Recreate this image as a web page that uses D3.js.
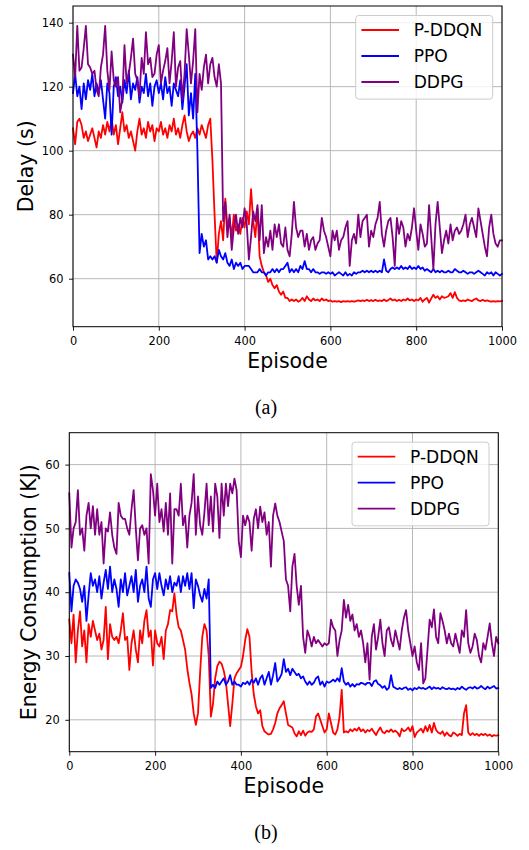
<!DOCTYPE html>
<html>
<head>
<meta charset="utf-8">
<script src="https://cdn.jsdelivr.net/npm/d3@7"></script>
<style>
  html, body { margin: 0; padding: 0; background: #fff; }
  svg { display: block; }
</style>
</head>
<body>
<div id="chart"></div>
<script>
// Training curves sampled every 5 episodes (0..1000)
const episodes = d3.range(0, 1001, 5);
const seriesNames = ["P-DDQN", "PPO", "DDPG"];
const seriesColors = ["#ff0000", "#0000ff", "#800080"];
const xTicks = [0, 200, 400, 600, 800, 1000];
const delayTicks = [60, 80, 100, 120, 140];
const energyTicks = [20, 30, 40, 50, 60];

// (a) Delay (s)
const delayPDDQN = [
  107,102,109,110,108,104,106,103,105,107,
  104,101,106,104,108,105,109,106,110,105,
  108,102,107,112,106,108,104,106,103,100,
  106,110,105,107,104,109,106,108,103,107,
  106,109,105,107,104,108,106,110,105,107,
  104,108,111,106,103,105,106,104,107,105,
  108,106,104,108,110,97,80,65,74,78,
  72,85,76,79,73,80,75,77,74,79,
  76,81,77,88,78,73,82,67,64,62,
  61,59,60,58,57,58,56,55,56,54,
  54,53,53.5,53,53.5,52.8,53.2,54,53,54.5,
  53.5,53,53.8,53.2,53.5,53,53.8,53.2,53.5,53,
  53.2,52.8,53,52.8,53,52.7,53,52.8,53,52.8,
  53,52.8,53,53.2,53,53.2,53,53.4,53,53.3,
  53,53.4,53,53.2,53,53.5,53,53.3,53.8,53.2,
  53.5,53,53.4,53,53.5,53.2,53.8,53.2,53.5,53,
  53.5,53.2,54,52.8,53.5,54,52.5,53.8,55,54,
  54.5,53.5,54.5,54,54.2,54.5,55.5,54,55.8,54,
  53.2,53,53.2,53,53.5,53.2,53,53.5,53.8,53.2,
  53,53.4,53,53.2,53,52.8,53,52.8,53,52.9,
  53
];
const delayPPO = [
  118,124,117,120,113,121,116,122,119,124,
  117,121,118,122,116,110,121,118,105,120,
  123,117,120,115,122,118,125,116,121,119,
  123,115,120,118,124,117,121,114,120,122,
  118,121,116,123,118,120,114,121,119,117,
  122,113,120,127,111,118,110,124,100,68,
  74,70,72,66,67,66,67,65,69,67,
  66,68,65,64,66,63,65,64,65,63,
  64,64,64,63,62,62,62,63,62,62,
  61,62,62,63,62,63,62,63,63,64,
  65,62,63,62,63,62,64,63,65.5,63,
  63,62,63,62,62,61.5,62,62,61.5,62,
  61.5,62,61,61.5,62,61.5,61,62,61,61.5,
  61,62,61.5,62,62,62.5,62,62.5,62,62.5,
  62,62.5,62,62.5,62,66,62.5,62,63,63.5,
  63,63.5,63,64,63,63.5,63,64,63,63.5,
  63,64,63,63.5,62.5,63,62.5,62,63,62,
  62.5,62,62.5,62,62,62.5,62,62,63,62.5,
  62,62,62.5,62,61.5,62,62,61.5,62,62.5,
  62,61.5,61,62,61.5,62,61,62,61.5,61,
  61.5
];
const delayDDPG = [
  130,123,139,125,126,132,139,127,126,124,
  125,119,117,126,130,139,125,119,131,122,
  120,123,112,116,133,121,124,129,135,124,
  122,117,129,124,137,127,129,123,124,130,
  133,121,125,128,132,121,128,137,120,126,
  128,116,124,138,130,121,128,138,112,124,
  119,126,130,121,127,129,123,120,127,121,
  78,84,73,80,69,76,80,74,79,76,
  82,77,66,73,81,78,83,72,83,68,
  73,70,75,69,77,73,77,71,70,76,
  69,67,74,84,76,73,75,75,70,74,
  69,72,73,69,71,72,79,75,73,70,
  67,75,72,75,69,72,73,76,78,64,
  72,74,71,80,73,78,79,80,70,75,
  73,77,79,84,74,70,75,78,79,73,
  64,79,74,78,76,70,74,72,76,82,
  75,69,77,74,70,71,83,73,63,77,
  84,76,68,72,75,71,77,72,75,76,
  74,75,77,80,73,77,79,76,73,82,
  78,74,70,67,76,80,74,71,70,72,
  72
];

// (b) Energy Consumption (KJ)
const energyPDDQN = [
  35.7,32,36.5,29,34,37,31.5,34,29,35,
  33,35.5,34,32.5,33.5,31,32.5,37.7,29.5,35,
  33,32.5,33,32,34,36.7,32.5,33,27.8,32,
  34,31,29,34,32,35.5,37.2,33,34,28.5,
  34,32,31.5,33,29.5,34,35,37.2,37,39.8,
  36.5,34.5,34,32.5,31,28,25.8,24,21,19.2,
  21,27.5,33,35,34,30,20.5,22.5,26.5,28.4,
  29.1,28.8,27.7,26,22.5,19,22.5,26.5,27.3,27.8,
  28.3,30,32.5,34.2,33,27.5,24,22.1,21,21.5,
  19,18.2,17.9,17.7,17.8,18.5,19.5,21,21.8,22.3,
  22.9,21,19.2,19,18.8,17.9,17.4,18.2,17.6,18.3,
  17.5,18,18.2,18.1,18.5,20.5,21,20,19,18,
  18.5,21,19.5,18,17.7,18.5,20.5,24.7,18,18.2,
  18,18.5,18.2,18.6,18.3,18.8,18.2,18.5,18,18.4,
  18.2,18.6,18.1,17.6,18.3,18.8,18.1,17.9,18.3,18.1,
  18.5,18.1,18.3,18,17.4,18.6,18.2,18.4,18.8,18.2,
  19,17.3,18,18.3,18.6,18,19,18.2,19.2,18,
  19.5,18.4,18,17.8,18.2,17.5,18,17.6,17.4,18,
  17.8,17.5,17.8,17.6,21,22.3,18,17.6,17.9,17.6,
  17.8,17.5,17.8,17.6,17.8,17.5,17.7,17.4,17.6,17.5,
  17.6
];
const energyPPO = [
  43,37,41,42,41.5,40.5,38.5,41,35.5,39.5,
  43,41,42,40,42.5,39,41.5,43.5,40.5,44,
  40,42,40.5,37.7,42,40,43,39.5,41,42.5,
  40,43.5,38.5,41,42,40,44,39,37.7,42,
  43,40.5,43,41,39.5,42,40.5,42.5,40,41.5,
  41,42.5,40,42.5,41,43,40.5,43,37.5,42,
  41,39.5,38.5,40.5,39,42,25,25.5,25,26,
  25.5,26,26.5,25.5,26,27,25.5,26,25.5,25.5,
  25.2,25.8,25.6,26,25.5,26.3,25.8,26.5,25.5,26.5,
  27,25.5,26.5,27.5,25.5,27,28.9,26,26.5,27.2,
  29.5,27.5,28,27,28,27.5,27,27.2,26.5,26.8,
  26,25.5,26,25.5,25.8,26.5,26.8,25.5,26,25.2,
  26,25.8,26,26.3,26,26.5,26,28.1,26,25.5,
  25.8,25.2,25.6,25.2,25.6,25.5,25.8,25.7,25.5,25.8,
  25.8,25.3,26,26.2,25.6,25.4,25,25.3,24.7,25,
  27,25.2,25,24.8,25,24.8,25,25.1,24.7,24.9,
  24.6,25,24.8,25.1,24.9,25,24.8,25,25.2,24.8,
  25.1,24.9,25,24.8,25.1,24.9,24.8,25,24.8,24.9,
  24.7,25,24.8,25.2,24.9,24.7,25,25.1,24.9,25.2,
  24.9,25,25.3,25,24.8,25.2,24.9,25.1,25.3,24.9,
  25
];
const energyDDPG = [
  55.5,47,50,51,56,49,50,46.5,52,54,
  50,53.5,49,53,49,51,44.5,50,49.5,52.5,
  49,47,46,54,52,51.5,51.5,50,49,53,
  56,50,45,50,50.5,49,50,44.5,58.5,56,
  52,57,51,53,49.5,54,49,55.5,44.5,53,
  53,52,57,50.5,52,47,52,54,58.5,49,
  55,50.5,49,52.5,57,50.5,55,49.5,57,55,
  48.5,57,52,57,53.5,57,55.5,57.8,56,48,
  45.5,52,50.5,52,51,46.5,51.5,53,50,53.4,
  51,52.5,49,51,44,52,53.9,52,51,49.5,
  48,42,41,37,44,46,41,38,41,33,
  30.5,34,33,31.5,33,32,32.5,32,31.5,32,
  31.7,32,35.7,34.5,34,30,32.5,34,38.8,36,
  38,35.5,36.5,34,35,33,34,32,29,32,
  26.3,33,35,31,33,35.7,32,30,34,34.5,
  32.5,31.5,34,32.5,31,34,36,37.2,34,32,
  30,31.5,29,27.8,32,25.7,26.5,31,35.7,34.5,
  37.3,33,32,36.7,35.5,34,32,33.5,32,31.5,
  33.5,32,30.5,34,33,37.2,32,30.5,31.5,33.5,
  32.5,30,29,32,31,33,35.1,32,30,33,
  32
];

const W = 529, H = 850;
const svg = d3.select("#chart").append("svg")
  .attr("width", W).attr("height", H)
  .attr("viewBox", `0 0 ${W} ${H}`);

const sansFont = "'DejaVu Sans', sans-serif";

function drawPanel(opts) {
  const { left, right, top, bottom, yDomain, yTicks, series, yLabel, yLabelX, caption, captionY } = opts;
  const x = d3.scaleLinear().domain([0, 1000]).range([left, right]);
  const y = d3.scaleLinear().domain(yDomain).range([bottom, top]);
  const g = svg.append("g");

  // grid
  g.append("g").selectAll("line").data(xTicks).join("line")
    .attr("x1", d => x(d)).attr("x2", d => x(d))
    .attr("y1", top).attr("y2", bottom)
    .attr("stroke", "#b0b0b0").attr("stroke-width", 0.9);
  g.append("g").selectAll("line").data(yTicks).join("line")
    .attr("x1", left).attr("x2", right)
    .attr("y1", d => y(d)).attr("y2", d => y(d))
    .attr("stroke", "#b0b0b0").attr("stroke-width", 0.9);

  // series
  const line = d3.line().x((d, i) => x(episodes[i])).y(d => y(d));
  series.forEach((vals, k) => {
    g.append("path").datum(vals)
      .attr("d", line)
      .attr("fill", "none")
      .attr("stroke", seriesColors[k])
      .attr("stroke-width", 1.8)
      .attr("stroke-linejoin", "round")
      .attr("stroke-linecap", "square");
  });

  // axes
  const xAxis = d3.axisBottom(x).tickValues(xTicks).tickFormat(d3.format("d"))
    .tickSize(4).tickPadding(6).tickSizeOuter(0);
  const yAxis = d3.axisLeft(y).tickValues(yTicks).tickFormat(d3.format("d"))
    .tickSize(4).tickPadding(5.5).tickSizeOuter(0);
  const gx = g.append("g").attr("transform", `translate(0,${bottom})`).call(xAxis);
  const gy = g.append("g").attr("transform", `translate(${left},0)`).call(yAxis);
  [gx, gy].forEach(a => {
    a.select(".domain").remove();
    a.selectAll("text").attr("font-family", sansFont).attr("font-size", 11.4).attr("fill", "#000");
    a.selectAll("line").attr("stroke", "#000").attr("stroke-width", 0.9);
  });

  // frame
  g.append("rect")
    .attr("x", left).attr("y", top)
    .attr("width", right - left).attr("height", bottom - top)
    .attr("fill", "none").attr("stroke", "#000").attr("stroke-width", 1);

  // axis labels
  g.append("text")
    .attr("x", (left + right) / 2).attr("y", bottom + 41.5)
    .attr("text-anchor", "middle")
    .attr("font-family", sansFont).attr("font-size", 20.5)
    .text("Episode");
  g.append("text")
    .attr("transform", `translate(${yLabelX},${(top + bottom) / 2}) rotate(-90)`)
    .attr("text-anchor", "middle")
    .attr("font-family", sansFont).attr("font-size", 20.5)
    .text(yLabel);

  // legend
  const bw = 137, bh = 83.6;
  const bx = right - 9.3 - bw, by = top + 9.5;
  const lg = g.append("g");
  lg.append("rect")
    .attr("x", bx).attr("y", by).attr("width", bw).attr("height", bh)
    .attr("rx", 3).attr("ry", 3)
    .attr("fill", "#fff").attr("fill-opacity", 0.8)
    .attr("stroke", "#cccccc").attr("stroke-width", 1);
  seriesNames.forEach((name, k) => {
    const ry = by + 14.5 + k * 26;
    lg.append("line")
      .attr("x1", bx + 5.7).attr("x2", bx + 43.3)
      .attr("y1", ry).attr("y2", ry)
      .attr("stroke", seriesColors[k]).attr("stroke-width", 1.8);
    lg.append("text")
      .attr("x", bx + 58).attr("y", ry + 6.2)
      .attr("font-family", sansFont).attr("font-size", 17.1)
      .text(name);
  });

  // caption
  svg.append("text")
    .attr("x", 266).attr("y", captionY)
    .attr("text-anchor", "middle")
    .attr("font-family", "'Liberation Serif', 'Times New Roman', serif")
    .attr("font-size", 20)
    .text(caption);
}

drawPanel({
  left: 73, right: 502, top: 6, bottom: 326.7,
  yDomain: [45, 145.2], yTicks: delayTicks,
  series: [delayPDDQN, delayPPO, delayDDPG],
  yLabel: "Delay (s)", yLabelX: 32.5,
  caption: "(a)", captionY: 414
});

drawPanel({
  left: 69.3, right: 498.3, top: 432.7, bottom: 751.7,
  yDomain: [15, 65], yTicks: energyTicks,
  series: [energyPDDQN, energyPPO, energyDDPG],
  yLabel: "Energy Consumption (KJ)", yLabelX: 36,
  caption: "(b)", captionY: 839
});
</script>
</body>
</html>
